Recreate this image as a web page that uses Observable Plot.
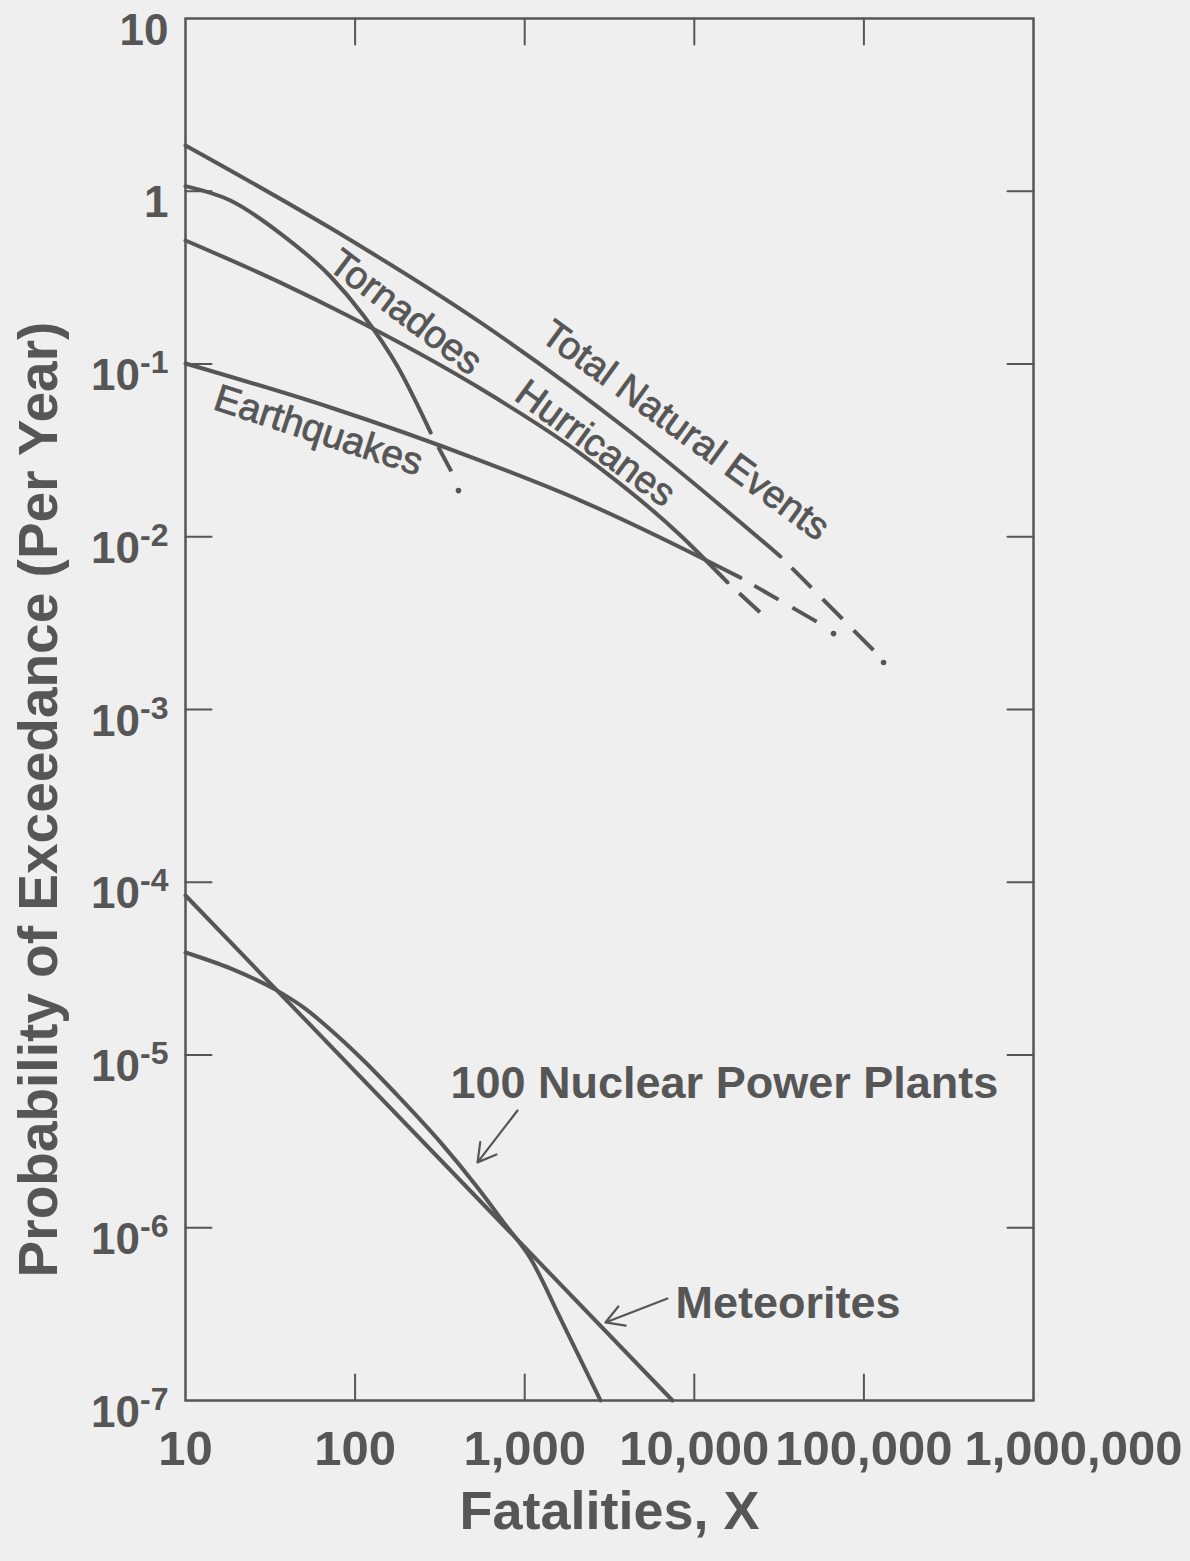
<!DOCTYPE html>
<html><head><meta charset="utf-8">
<script src="https://cdn.jsdelivr.net/npm/d3@7"></script>
<script src="https://cdn.jsdelivr.net/npm/@observablehq/plot@0.6"></script>
<style>
html,body{margin:0;padding:0;background:#efefef;}
#chart svg{display:block;}
</style></head><body><div id="chart"></div>
<script>
// ---- axes ----
const xTicks = [10, 100, 1000, 10000, 100000, 1000000];
const xTickLabels = ["10", "100", "1,000", "10,000", "100,000", "1,000,000"];
const yTicks = [10, 1, 1e-1, 1e-2, 1e-3, 1e-4, 1e-5, 1e-6, 1e-7];
const yTickBase = ["10", "1", "10", "10", "10", "10", "10", "10", "10"];
const yTickExp = ["", "", "-1", "-2", "-3", "-4", "-5", "-6", "-7"];
const xTitle = "Fatalities, X";
const yTitle = "Probability of Exceedance (Per Year)";

// ---- series (solid parts) ----
const totalX = [10, 71.6, 548, 4207, 32200];
const totalY = [1.84, 0.612, 0.174, 0.0404, 0.00769];
const tornadoX = [10, 18.4, 36.3, 71.6, 112, 178, 279];
const tornadoY = [1.07, 0.884, 0.569, 0.321, 0.191, 0.0967, 0.0401];
const hurricaneX = [10, 36.3, 90.2, 548, 2133, 8300, 15700];
const hurricaneY = [0.519, 0.296, 0.191, 0.0721, 0.0303, 0.01017, 0.00544];
const quakeX = [10, 71.6, 548, 2133, 8300, 18700];
const quakeY = [0.1007, 0.056, 0.0276, 0.0162, 0.00867, 0.0058];
const nuclearX = [10, 18.4, 33.9, 51.0, 71.6, 110.6, 185, 319, 527, 770, 1082, 1626, 2799];
const nuclearY = [3.92e-5, 3.17e-5, 2.39e-5, 1.85e-5, 1.40e-5, 9.42e-6, 5.60e-6, 3.12e-6, 1.71e-6, 1.04e-6, 6.64e-7, 2.98e-7, 1e-7];
const meteorX = [10, 7437];
const meteorY = [8.38e-5, 1e-7];

// ---- dashed extrapolations ----
const totalExtX = [32200, 114000];
const totalExtY = [0.00769, 0.0022];
const tornadoExtX = [279, 375];
const tornadoExtY = [0.0401, 0.0232];
const hurricaneExtX = [15700, 25600];
const hurricaneExtY = [0.00544, 0.0035];
const quakeExtX = [18700, 57800];
const quakeExtY = [0.0058, 0.00306];

// end dots of dashed tails
const tailDotX = [130600, 407, 66200];
const tailDotY = [0.00187, 0.0185, 0.00275];

// ---- curve labels ----
const labelText = ["Total Natural Events", "Tornadoes", "Hurricanes", "Earthquakes"];
const labelX = [8870, 198, 2612, 60.8];
const labelY = [0.0412, 0.199, 0.0347, 0.0412];
const labelAngle = [36, 37, 36, 18];

// ---- callout labels with arrows ----
const calloutText = ["100 Nuclear Power Plants", "Meteorites"];
const calloutX = [365, 7740];
const calloutY = [6.84e-6, 3.65e-7];
const arrowX1 = [907, 6950];
const arrowY1 = [4.77e-6, 3.89e-7];
const arrowX2 = [527, 2992];
const arrowY2 = [2.39e-6, 2.83e-7];

const ink = "#565656";
const zip = (name, xs, ys) => xs.map((x, i) => ({series: name, x, y: ys[i]}));

const solid = [
  ...zip("Total Natural Events", totalX, totalY),
  ...zip("Tornadoes", tornadoX, tornadoY),
  ...zip("Hurricanes", hurricaneX, hurricaneY),
  ...zip("Earthquakes", quakeX, quakeY),
  ...zip("100 Nuclear Power Plants", nuclearX, nuclearY),
  ...zip("Meteorites", meteorX, meteorY)
];
const ext = [
  ...zip("Total Natural Events", totalExtX, totalExtY),
  ...zip("Tornadoes", tornadoExtX, tornadoExtY),
  ...zip("Hurricanes", hurricaneExtX, hurricaneExtY),
  ...zip("Earthquakes", quakeExtX, quakeExtY)
];
const dots = tailDotX.map((x, i) => ({x, y: tailDotY[i]}));
const labels = labelText.map((t, i) => ({t, x: labelX[i], y: labelY[i], a: labelAngle[i]}));
const callouts = calloutText.map((t, i) => ({t, x: calloutX[i], y: calloutY[i]}));
const arrows = arrowX1.map((x1, i) => ({x1, y1: arrowY1[i], x2: arrowX2[i], y2: arrowY2[i]}));

const tickShape = {draw(context, l) { context.moveTo(0, 0); context.lineTo(0, -l); }};
const innerX = xTicks.slice(1, -1);
const innerY = yTicks.slice(1, -1);
const font = "'Liberation Sans', Arial, Helvetica, sans-serif";

const chart = Plot.plot({
  width: 1190,
  height: 1561,
  marginLeft: 185,
  marginRight: 157,
  marginTop: 18,
  marginBottom: 161,
  style: {background: "#efefef", color: ink, fontFamily: font},
  x: {type: "log", domain: [10, 1e6], label: null},
  y: {type: "log", domain: [1e-7, 10], label: null},
  marks: [
    // inward ticks on all four sides
    Plot.vector(innerX, {x: d => d, frameAnchor: "bottom", rotate: 0, length: 26, anchor: "start", shape: tickShape, stroke: ink, strokeWidth: 2}),
    Plot.vector(innerX, {x: d => d, frameAnchor: "top", rotate: 180, length: 26, anchor: "start", shape: tickShape, stroke: ink, strokeWidth: 2}),
    Plot.vector(innerY, {y: d => d, frameAnchor: "left", rotate: 90, length: 26, anchor: "start", shape: tickShape, stroke: ink, strokeWidth: 2}),
    Plot.vector(innerY, {y: d => d, frameAnchor: "right", rotate: -90, length: 26, anchor: "start", shape: tickShape, stroke: ink, strokeWidth: 2}),
    Plot.frame({stroke: ink, strokeWidth: 2.5}),
    // tick labels
    Plot.axisX({ticks: xTicks.slice(0, -1), tickSize: 0, tickPadding: 30, fontSize: 49, fontWeight: "bold",
      tickFormat: d => xTickLabels[xTicks.indexOf(d)], label: null}),
    Plot.axisX({ticks: xTicks.slice(-1), tickSize: 0, tickPadding: 30, fontSize: 49, fontWeight: "bold", dx: 40,
      tickFormat: d => xTickLabels[xTicks.indexOf(d)], label: null}),
    Plot.axisY({ticks: yTicks, tickSize: 0, tickPadding: 17, fontSize: 44, fontWeight: "bold", dy: 12,
      tickFormat: d => { const i = yTicks.indexOf(d); return yTickBase[i] + "|" + yTickExp[i]; }, label: null}),
    // axis titles
    Plot.text([xTitle], {frameAnchor: "bottom", dy: 128, fontSize: 54, fontWeight: "bold", fill: ink}),
    Plot.text([yTitle], {frameAnchor: "left", textAnchor: "middle", rotate: -90, dx: -146, dy: 90, fontSize: 55, fontWeight: "bold", fill: ink}),
    // curves
    Plot.line(solid, {x: "x", y: "y", z: "series", stroke: ink, strokeWidth: 4, curve: "monotone-x"}),
    Plot.line(ext, {x: "x", y: "y", z: "series", stroke: ink, strokeWidth: 4, strokeDasharray: "28,16", strokeDashoffset: 28, strokeLinecap: "butt"}),
    Plot.dot(dots, {x: "x", y: "y", r: 2.8, fill: ink}),
    // curve labels
    Plot.text(labels, {x: "x", y: "y", text: "t", rotate: "a", fontSize: 38.5, fill: ink, stroke: ink, strokeWidth: 0.8}),
    Plot.text(callouts, {x: "x", y: "y", text: "t", textAnchor: "start", fontSize: 45, fontWeight: "bold", fill: ink}),
    Plot.arrow(arrows, {x1: "x1", y1: "y1", x2: "x2", y2: "y2", stroke: ink, strokeWidth: 2.2, headLength: 14})
  ]
});

// superscript exponents on the y tick labels
d3.select(chart).selectAll("g[aria-label='y-axis tick label'] text").each(function () {
  const [base, exp] = this.textContent.split("|");
  const t = d3.select(this);
  t.text(base);
  if (exp) t.append("tspan").attr("dy", -17).attr("font-size", 32).text(exp);
});

document.getElementById("chart").appendChild(chart);
</script>
</body></html>
